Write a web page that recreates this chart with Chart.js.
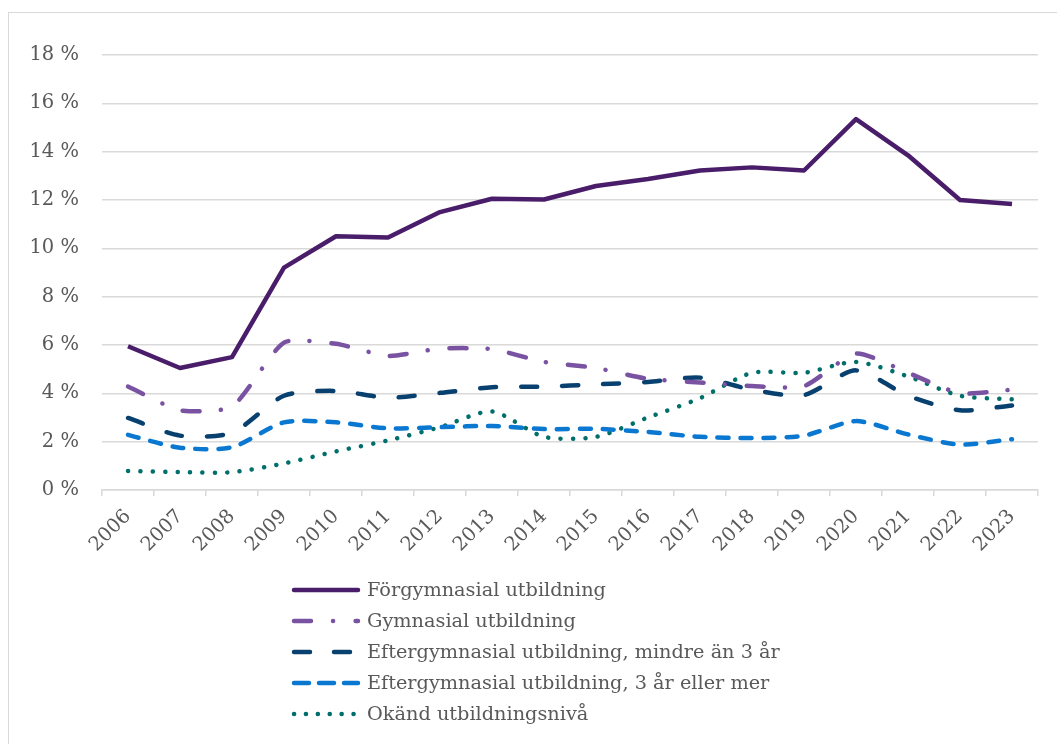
<!DOCTYPE html>
<html lang="sv">
<head>
    <meta charset="UTF-8">
    <title>Utbildningsnivå</title>
    <script src="https://cdn.jsdelivr.net/npm/chart.js"></script>
    <style>
        body {
            margin: 0;
            background-color: #fff;
            overflow: hidden;
        }
        .frame {
            position: absolute;
            left: 8px;
            top: 12px;
            width: 1100px;
            height: 800px;
            border: 1.5px solid #d9d9d9;
        }
        .chart-container {
            position: absolute;
            left: 0;
            top: 0;
            width: 1057px;
            height: 744px;
        }
    </style>
</head>
<body>
    <div class="frame"></div>
    <div class="chart-container">
        <canvas id="eduChart" width="1057" height="744"></canvas>
    </div>
    <script>
        const years = ['2006', '2007', '2008', '2009', '2010', '2011', '2012', '2013', '2014',
                       '2015', '2016', '2017', '2018', '2019', '2020', '2021', '2022', '2023'];
        const yTicks = [0, 2, 4, 6, 8, 10, 12, 14, 16, 18];

        const forgymnasial = [5.95, 5.05, 5.5, 9.2, 10.5, 10.45, 11.5, 12.05, 12.02, 12.58, 12.87, 13.22, 13.35, 13.22, 15.35, 13.85, 12.0, 11.83];
        const gymnasial    = [4.28, 3.3, 3.45, 6.1, 6.05, 5.55, 5.85, 5.83, 5.3, 5.05, 4.6, 4.45, 4.3, 4.3, 5.65, 4.85, 4.0, 4.15];
        const eftKort      = [2.98, 2.25, 2.37, 3.9, 4.1, 3.82, 4.02, 4.25, 4.28, 4.37, 4.47, 4.65, 4.15, 3.93, 4.95, 3.9, 3.3, 3.5];
        const eftLang      = [2.28, 1.75, 1.77, 2.8, 2.8, 2.55, 2.6, 2.65, 2.52, 2.53, 2.4, 2.2, 2.15, 2.25, 2.85, 2.3, 1.88, 2.1];
        const okand        = [0.79, 0.74, 0.74, 1.1, 1.6, 2.05, 2.6, 3.25, 2.2, 2.2, 3.0, 3.8, 4.85, 4.85, 5.3, 4.7, 3.9, 3.75];

        const textColor = '#595959';
        const gridColor = '#d9d9d9';
        const serif = "'DejaVu Serif', serif";

        // legend drawn by hand: one column under the plot, like the original
        const listLegend = {
            id: 'listLegend',
            afterDraw(chart) {
                const ctx = chart.ctx;
                chart.data.datasets.forEach((ds, i) => {
                    const y = 590 + i * 31;
                    ctx.save();
                    ctx.strokeStyle = ds.borderColor;
                    ctx.lineWidth = ds.borderWidth;
                    ctx.lineCap = 'round';
                    ctx.setLineDash(ds.legendDash || []);
                    ctx.beginPath();
                    ctx.moveTo(294, y);
                    ctx.lineTo(358, y);
                    ctx.stroke();
                    ctx.setLineDash([]);
                    ctx.fillStyle = textColor;
                    ctx.font = '19.3px ' + serif;
                    ctx.textBaseline = 'middle';
                    ctx.fillText(ds.label, 367, y + 1);
                    ctx.restore();
                });
            }
        };

        const ctx = document.getElementById('eduChart').getContext('2d');
        new Chart(ctx, {
            type: 'line',
            data: {
                labels: years,
                datasets: [
                    {
                        label: 'Förgymnasial utbildning',
                        data: forgymnasial,
                        borderColor: '#4a1d6a',
                        borderWidth: 4.5,
                        tension: 0,
                        borderJoinStyle: 'round',
                        legendDash: []
                    },
                    {
                        label: 'Gymnasial utbildning',
                        data: gymnasial,
                        borderColor: '#7a52a2',
                        borderWidth: 4.5,
                        tension: 0.2,
                        borderCapStyle: 'round',
                        borderDash: [17, 21, 0.1, 22],
                        legendDash: [17, 22, 0.1, 22.5]
                    },
                    {
                        label: 'Eftergymnasial utbildning, mindre än 3 år',
                        data: eftKort,
                        borderColor: '#08406f',
                        borderWidth: 4.5,
                        tension: 0.25,
                        borderCapStyle: 'round',
                        borderDash: [16, 25],
                        legendDash: [16, 24]
                    },
                    {
                        label: 'Eftergymnasial utbildning, 3 år eller mer',
                        data: eftLang,
                        borderColor: '#0a78d0',
                        borderWidth: 4.5,
                        tension: 0.25,
                        borderCapStyle: 'round',
                        borderDash: [11, 12],
                        legendDash: [15, 10]
                    },
                    {
                        label: 'Okänd utbildningsnivå',
                        data: okand,
                        borderColor: '#006f6b',
                        borderWidth: 4.5,
                        tension: 0.25,
                        borderCapStyle: 'round',
                        borderDash: [0.1, 12.3],
                        legendDash: [0.1, 11.8]
                    }
                ]
            },
            options: {
                responsive: false,
                animation: false,
                layout: {
                    padding: { left: 0, right: 19, top: 55, bottom: 0 }
                },
                elements: {
                    point: { radius: 0 }
                },
                plugins: {
                    legend: { display: false },
                    tooltip: { enabled: false }
                },
                scales: {
                    x: {
                        offset: true,
                        afterFit(scale) { scale.height = 254; },
                        grid: {
                            offset: true,
                            drawOnChartArea: false,
                            drawTicks: true,
                            tickLength: 6,
                            color: gridColor,
                            lineWidth: 1.5
                        },
                        border: { display: true, color: gridColor, width: 1.5 },
                        ticks: {
                            color: textColor,
                            font: { family: serif, size: 19.5 },
                            minRotation: 45,
                            maxRotation: 45,
                            padding: 9,
                            autoSkip: false
                        }
                    },
                    y: {
                        min: 0,
                        max: 18,
                        afterFit(scale) { scale.width = 102; },
                        afterBuildTicks(scale) {
                            scale.ticks = yTicks.map(v => ({ value: v }));
                        },
                        grid: {
                            color: gridColor,
                            lineWidth: 1.5,
                            drawTicks: false
                        },
                        border: { display: false },
                        ticks: {
                            color: textColor,
                            font: { family: serif, size: 19.5 },
                            padding: 23,
                            callback: v => v + ' %'
                        }
                    }
                }
            },
            plugins: [listLegend]
        });
    </script>
</body>
</html>
